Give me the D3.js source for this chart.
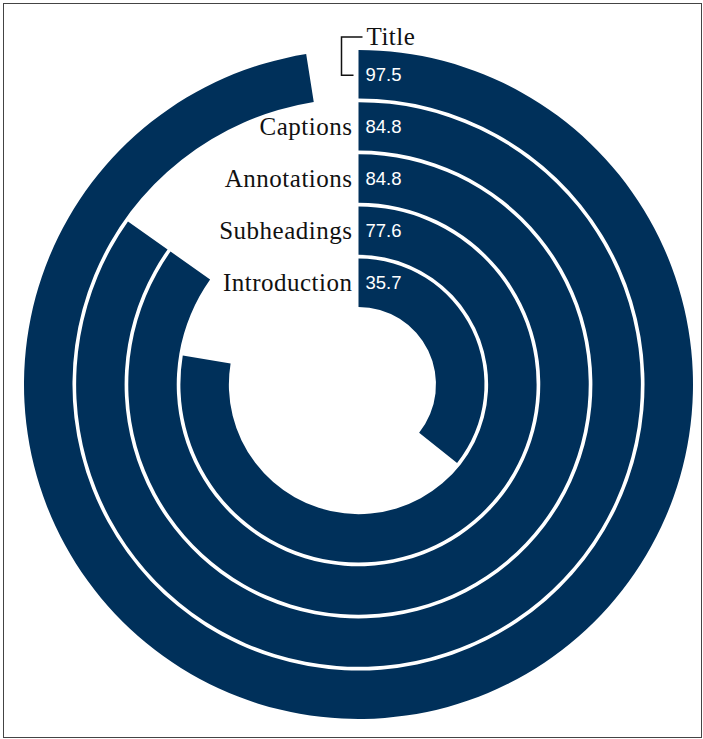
<!DOCTYPE html>
<html>
<head>
<meta charset="utf-8">
<script src="https://cdn.jsdelivr.net/npm/d3@7"></script>
<style>
  html, body { margin: 0; padding: 0; background: #fff; }
  svg { display: block; }
</style>
</head>
<body>
<div id="chart"></div>
<script>
const categories = ["Title", "Captions", "Annotations", "Subheadings", "Introduction"];
const values = [97.5, 84.8, 84.8, 77.6, 35.7];
const maxValue = 100;

const W = 703, H = 739;
const cx = 358.5, cy = 384.5;
const outerR = 334.5, innerR = 77.5;
const barColor = "#00305A";

const svg = d3.select("#chart").append("svg")
  .attr("width", W).attr("height", H);

svg.append("rect")
  .attr("x", 3.5).attr("y", 3.5)
  .attr("width", W - 5).attr("height", H - 5)
  .attr("fill", "none").attr("stroke", "#444").attr("stroke-width", 1);

const g = svg.append("g").attr("transform", `translate(${cx},${cy})`);

const angle = d3.scaleLinear().domain([0, maxValue]).range([0, 2 * Math.PI]);
const radius = d3.scaleBand().domain(categories).range([outerR, innerR]).paddingInner(0.07).paddingOuter(0);

const data = categories.map((c, i) => ({ name: c, value: values[i] }));

const arc = d3.arc()
  .innerRadius(d => radius(d.name))
  .outerRadius(d => radius(d.name) + radius.bandwidth())
  .startAngle(0)
  .endAngle(d => angle(d.value));

g.selectAll("path.bar").data(data).join("path")
  .attr("class", "bar")
  .attr("d", arc)
  .attr("fill", barColor);

const labelFont = "'Liberation Serif', 'Times New Roman', serif";
const valueFont = "'Liberation Sans', Arial, sans-serif";

// value labels
g.selectAll("text.val").data(data).join("text")
  .attr("class", "val")
  .attr("x", 7)
  .attr("y", d => -(radius(d.name) + radius.bandwidth() / 2))
  .attr("dy", "0.36em")
  .attr("fill", "#fff")
  .attr("font-family", valueFont)
  .attr("font-size", 18.5)
  .text(d => d.value.toFixed(1));

// category labels (all but first on left)
g.selectAll("text.cat").data(data.slice(1)).join("text")
  .attr("class", "cat")
  .attr("x", -6)
  .attr("y", d => -(radius(d.name) + radius.bandwidth() / 2))
  .attr("dy", "0.33em")
  .attr("text-anchor", "end")
  .attr("fill", "#111")
  .attr("font-family", labelFont)
  .attr("font-size", 25)
  .attr("letter-spacing", 0.5)
  .text(d => d.name);

// first category label with bracket
const first = data[0];
const bandMid = -(radius(first.name) + radius.bandwidth() / 2);
const labelY = -(outerR + 13);
const bx = -17;
const bracket = d3.path();
bracket.moveTo(4, labelY);
bracket.lineTo(bx, labelY);
bracket.lineTo(bx, bandMid + 1);
bracket.lineTo(-5, bandMid + 1);
g.append("path")
  .attr("d", bracket.toString())
  .attr("fill", "none")
  .attr("stroke", "#111")
  .attr("stroke-width", 1.5);

g.append("text")
  .attr("x", 8)
  .attr("y", labelY)
  .attr("dy", "0.33em")
  .attr("fill", "#111")
  .attr("font-family", labelFont)
  .attr("font-size", 25)
  .attr("letter-spacing", 0.5)
  .text(first.name);
</script>
</body>
</html>
